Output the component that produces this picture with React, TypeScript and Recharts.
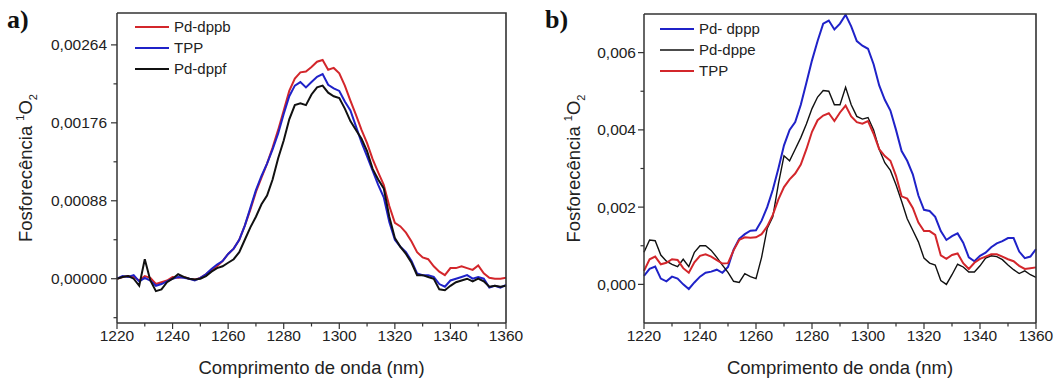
import React from "react";
import { LineChart, Line, XAxis, YAxis, Legend } from "recharts";

const FONT = '"Liberation Sans", Arial, sans-serif';
const AXIS = "#333";
const TEXT = "#222";
const RED = "#d3262b";
const BLUE = "#1f22c8";
const BLACK = "#111";

// wavelength grid, nm
const wavelengths = Array.from({ length: 71 }, (_, i) => 1220 + 2 * i);

// panel a (values x 1e-5)
const dppbA = [
  0, 2, 3, 2, -2, 3, 1, -6, -4, -2,
  2, 1, 2, 0, -1, 1, 5, 10, 14, 20,
  28, 34, 44, 60, 78, 98, 114, 130, 148, 168,
  190, 212, 226, 233, 234, 239, 245, 247, 236, 238,
  232, 218, 201, 185, 168, 153, 135, 120, 106, 82,
  63, 59, 52, 42, 30, 24, 22, 14, 8, 4,
  12, 12, 14, 12, 10, 15, 6, 1, 0, 0, 1,
];
const tppA = [
  0, 3, 2, 4, -3, 1, -2, -8, -6, -3,
  0, 2, 1, 0, -2, 1, 5, 11, 16, 20,
  28, 34, 44, 60, 80, 100, 116, 130, 146, 164,
  186, 206, 218, 222, 216, 222, 228, 231, 219, 215,
  212, 200, 190, 172, 154, 138, 122, 106, 92, 64,
  44, 36, 30, 20, 6, 4, 4, 2, -6, -9,
  -2, 0, 2, 4, 0, 2, 0, -10, -8, -10, -7,
];
const dppfA = [
  0, 2, 3, 0, -8, 22, -2, -14, -12, -4,
  0, 5, 2, 0, -1, 0, 3, 8, 12, 14,
  18, 22, 30, 44, 58, 70, 84, 94, 112, 136,
  156, 180, 196, 198, 196, 208, 216, 218, 210, 206,
  204, 192, 178, 168, 158, 144, 124, 112, 102, 70,
  46, 36, 28, 18, 4, 4, 2, 0, -12, -13,
  -8, -4, -2, 0, -3, 0, -3, -9, -8, -9, -8,
];

// panel b (values x 1e-4)
const dpppB = [
  2.2, 4.0, 4.6, 1.5, 0.8, 2.0, 1.5, 0.0, -1.2, 0.5,
  2.0, 3.0, 3.3, 3.8, 3.0, 4.5, 9.0, 11.8, 13.0, 13.9,
  14.0, 16.5, 20.0, 24.5, 30.0, 36.0, 40.0, 42.0, 46.5, 52.2,
  58.0, 63.0, 67.5, 68.3, 66.0, 67.5, 69.8, 66.8, 63.0, 61.8,
  61.0, 57.0, 51.5, 47.8, 45.0, 40.0, 34.5, 32.0, 28.5, 23.0,
  19.3, 19.0, 17.5, 13.8, 11.5, 12.5, 13.2, 10.8, 7.0, 6.0,
  7.4, 8.2, 9.6, 10.6, 11.2, 12.0, 12.0, 8.5, 6.8, 7.2, 9.1,
];
const dppeB = [
  8.3, 11.5, 11.3, 7.6, 6.0, 5.2, 4.6, 6.5, 4.6, 8.3,
  10.0, 10.0, 8.8, 7.0, 5.0, 3.1, 0.8, 0.5, 2.8, 2.0,
  1.5, 7.0, 14.5, 17.5, 26.0, 33.3, 32.0, 35.0, 38.0, 41.5,
  45.5, 48.5, 50.2, 50.0, 46.5, 46.5, 51.0, 46.5, 43.5, 42.8,
  43.2, 40.0, 35.0, 31.5, 29.5, 25.8, 21.5, 17.0, 14.0, 11.0,
  6.8, 5.5, 5.0, 1.0, 0.0, 2.5, 5.2, 4.5, 3.2, 3.2,
  4.8, 6.8, 7.4, 7.2, 6.4, 5.0, 3.8, 2.8, 3.5, 2.5, 1.8,
];
const tppB = [
  3.5, 6.5, 7.2, 5.2, 5.6, 6.5, 6.3, 4.2, 3.0, 5.7,
  7.4, 7.8, 7.2, 6.3, 5.4, 5.5, 8.8, 11.5, 12.2, 12.1,
  12.2, 13.0, 15.0, 18.0, 22.0, 25.2, 27.2, 28.7, 31.0, 35.0,
  39.5, 42.5, 43.7, 44.3, 42.3, 44.5, 46.3, 43.5, 42.0, 41.6,
  42.3, 39.0, 35.0, 33.2, 32.0, 28.1, 22.8, 22.2, 19.8, 16.0,
  13.8, 13.8, 12.8, 7.5, 6.6, 7.6, 8.0, 5.5, 4.0, 5.6,
  6.6, 7.2, 7.8, 7.8, 7.2, 6.5, 6.0, 4.8, 4.0, 4.2, 4.4,
];

const xTicks = [1220, 1230, 1240, 1250, 1260, 1270, 1280, 1290, 1300, 1310, 1320, 1330, 1340, 1350, 1360];
const yTicksA = [-0.00044, 0, 0.00044, 0.00088, 0.00132, 0.00176, 0.0022, 0.00264];
const yTicksB = [0, 0.001, 0.002, 0.003, 0.004, 0.005, 0.006];

const dataA = wavelengths.map((nm, i) => ({
  nm,
  dppb: dppbA[i] * 1e-5,
  tpp: tppA[i] * 1e-5,
  dppf: dppfA[i] * 1e-5,
}));
const dataB = wavelengths.map((nm, i) => ({
  nm,
  dppp: dpppB[i] * 1e-4,
  dppe: dppeB[i] * 1e-4,
  tpp: tppB[i] * 1e-4,
}));

type Item = { key: string; name: string; color: string; width: number };
const seriesA: Item[] = [
  { key: "dppb", name: "Pd-dppb", color: RED, width: 2 },
  { key: "tpp", name: "TPP", color: BLUE, width: 2 },
  { key: "dppf", name: "Pd-dppf", color: BLACK, width: 2 },
];
const seriesB: Item[] = [
  { key: "dppp", name: "Pd- dppp", color: BLUE, width: 2 },
  { key: "dppe", name: "Pd-dppe", color: BLACK, width: 1.4 },
  { key: "tpp", name: "TPP", color: RED, width: 2 },
];

const xTick = (p: any) => {
  const v = p.payload.value;
  const major = v % 20 === 0;
  return (
    <g>
      <line x1={p.x} x2={p.x} y1={p.y} y2={p.y + (major ? 6 : 3.5)} stroke={AXIS} strokeWidth={1.2} />
      {major && (
        <text x={p.x} y={p.y + 18} textAnchor="middle" fontSize={15.5} fontFamily={FONT} fill={TEXT}>
          {v}
        </text>
      )}
    </g>
  );
};

const makeYTick = (step: number, digits: number, gap: number) => (p: any) => {
  const v = p.payload.value;
  const major = Math.round(v / step) % 2 === 0;
  return (
    <g>
      <line x1={p.x} x2={p.x - (major ? 6 : 3.5)} y1={p.y} y2={p.y} stroke={AXIS} strokeWidth={1.2} />
      {major && (
        <text x={p.x - gap} y={p.y} dy="0.36em" textAnchor="end" fontSize={15.5} fontFamily={FONT} fill={TEXT}>
          {v.toFixed(digits).replace(".", ",")}
        </text>
      )}
    </g>
  );
};

// y-axis title, plus the top and right edges of the plot box (the axes draw the other two)
const YTitle = ({ viewBox, cx, frameRight }: any) => {
  const top = viewBox ? viewBox.y : 13;
  const h = viewBox ? viewBox.height : 310;
  const left = viewBox ? viewBox.x + viewBox.width : 117;
  const cy = top + h / 2;
  return (
    <g>
      <polyline
        points={`${left},${top} ${frameRight},${top} ${frameRight},${top + h}`}
        fill="none"
        stroke={AXIS}
        strokeWidth={1.6}
      />
      <text
        x={cx}
        y={cy}
        transform={`rotate(-90, ${cx}, ${cy})`}
        textAnchor="middle"
        dy="0.35em"
        fontSize={18.5}
        fontFamily={FONT}
        fill={TEXT}
      >
        Fosforecência{" "}
        <tspan fontSize={11} dy={-8}>1</tspan>
        <tspan fontSize={18.5} dy={8}>O</tspan>
        <tspan fontSize={11} dy={5}>2</tspan>
      </text>
    </g>
  );
};

const LegendBox = ({ items }: { items: Item[] }) => (
  <svg width={130} height={66}>
    {items.map((it, i) => (
      <g key={it.key}>
        <line x1={0} x2={34} y1={10 + i * 21} y2={10 + i * 21} stroke={it.color} strokeWidth={it.width} />
        <text x={39} y={10 + i * 21} dy="0.36em" fontSize={15} fontFamily={FONT} fill={TEXT}>
          {it.name}
        </text>
      </g>
    ))}
  </svg>
);

type PanelProps = {
  data: any[];
  series: Item[];
  width: number;
  axisWidth: number;
  margin: { top: number; right: number; left: number; bottom: number };
  yDomain: [number, number];
  yTicks: number[];
  yTick: (p: any) => React.ReactElement;
  titleX: number;
  legendPos: { top: number; left: number };
};

function Panel(props: PanelProps) {
  const { data, series, width, axisWidth, margin, yDomain, yTicks, yTick, titleX, legendPos } = props;
  return (
    <LineChart width={width} height={382} data={data} margin={margin}>
      <XAxis
        dataKey="nm"
        type="number"
        domain={[1220, 1360]}
        ticks={xTicks}
        interval={0}
        height={59}
        tickSize={0}
        tickMargin={0}
        tickLine={false}
        tick={xTick}
        axisLine={{ stroke: AXIS, strokeWidth: 1.5 }}
        label={{
          value: "Comprimento de onda (nm)",
          position: "insideBottom",
          offset: 8,
          fontSize: 18.5,
          fontFamily: FONT,
          fill: TEXT,
        }}
      />
      <YAxis
        type="number"
        domain={yDomain}
        allowDataOverflow
        ticks={yTicks}
        interval={0}
        width={axisWidth}
        tickSize={0}
        tickMargin={0}
        tickLine={false}
        tick={yTick}
        axisLine={{ stroke: AXIS, strokeWidth: 1.5 }}
        label={<YTitle cx={titleX} frameRight={width - margin.right} />}
      />
      <Legend
        layout="vertical"
        align="center"
        verticalAlign="middle"
        wrapperStyle={{ top: legendPos.top, left: legendPos.left, width: 130 }}
        content={() => <LegendBox items={series} />}
      />
      {series.map((s) => (
        <Line
          key={s.key}
          type="linear"
          dataKey={s.key}
          name={s.name}
          stroke={s.color}
          strokeWidth={s.width}
          dot={false}
          isAnimationActive={false}
        />
      ))}
    </LineChart>
  );
}

const panelLabel: React.CSSProperties = {
  position: "absolute",
  top: 7,
  fontFamily: '"Liberation Serif", "Times New Roman", serif',
  fontWeight: "bold",
  fontSize: 26,
  lineHeight: "26px",
  color: "#111",
};

export default function App() {
  return (
    <div style={{ position: "absolute", left: 0, top: 0, width: 1063, height: 382, background: "#fff" }}>
      <div style={{ position: "absolute", left: 0, top: 0 }}>
        <Panel
          data={dataA}
          series={seriesA}
          width={530}
          axisWidth={117}
          margin={{ top: 13, right: 24, left: 0, bottom: 0 }}
          yDomain={[-0.0005, 0.003]}
          yTicks={yTicksA}
          yTick={makeYTick(0.00044, 5, 10)}
          titleX={26}
          legendPos={{ top: 17, left: 135 }}
        />
      </div>
      <div style={{ position: "absolute", left: 530, top: 0 }}>
        <Panel
          data={dataB}
          series={seriesB}
          width={533}
          axisWidth={114}
          margin={{ top: 14, right: 27, left: 0, bottom: 0 }}
          yDomain={[-0.001, 0.007]}
          yTicks={yTicksB}
          yTick={makeYTick(0.001, 3, 8)}
          titleX={44}
          legendPos={{ top: 19, left: 130 }}
        />
      </div>
      <div style={{ ...panelLabel, left: 7 }}>a)</div>
      <div style={{ ...panelLabel, left: 545 }}>b)</div>
    </div>
  );
}
